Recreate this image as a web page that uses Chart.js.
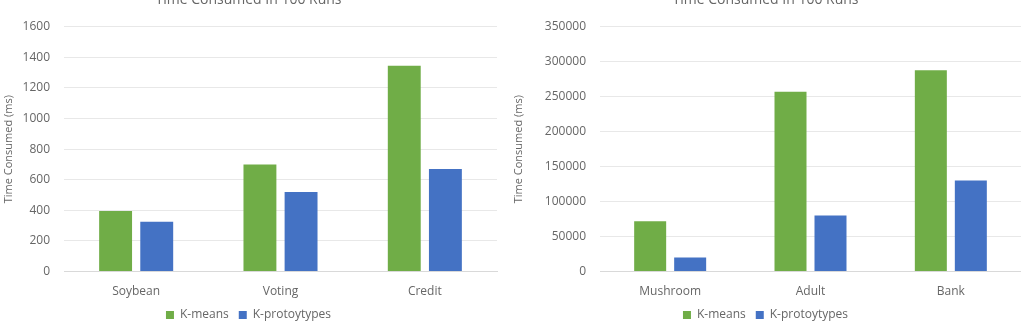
<!DOCTYPE html>
<html>
<head>
<meta charset="utf-8">
<script src="https://cdn.jsdelivr.net/npm/chart.js@4/dist/chart.umd.min.js"></script>
<style>
  html, body { margin: 0; padding: 0; background: #fff; overflow: hidden; }
  .wrap { position: absolute; top: -8px; height: 339px; }
  #w1 { left: 0; width: 510px; }
  #w2 { left: 510px; width: 511px; }
</style>
</head>
<body>
<div class="wrap" id="w1"><canvas id="c1"></canvas></div>
<div class="wrap" id="w2"><canvas id="c2"></canvas></div>
<script>
// data
const leftCategories = ['Soybean', 'Voting', 'Credit'];
const leftKmeans = [395, 700, 1345];
const leftKproto = [325, 520, 670];

const rightCategories = ['Mushroom', 'Adult', 'Bank'];
const rightKmeans = [72000, 257000, 288000];
const rightKproto = [20000, 80000, 130000];

const seriesNames = ['K-means', 'K-protoytypes'];
const titleText = 'Time Consumed In 100 Runs';
const yTitle = 'Time Consumed (ms)';

Chart.defaults.font.family = '"Open Sans", sans-serif';
Chart.defaults.color = '#666';

function makeChart(id, labels, a, b, max, step, axisWidth, padRight) {
    return new Chart(document.getElementById(id), {
        type: 'bar',
        data: {
            labels: labels,
            datasets: [{
                label: seriesNames[0],
                data: a,
                backgroundColor: '#70ad47',
                categoryPercentage: 0.57,
                barPercentage: 0.8
            }, {
                label: seriesNames[1],
                data: b,
                backgroundColor: '#4472c4',
                categoryPercentage: 0.57,
                barPercentage: 0.8
            }]
        },
        options: {
            responsive: true,
            maintainAspectRatio: false,
            animation: false,
            layout: { padding: { right: padRight, bottom: 0 } },
            scales: {
                x: {
                    grid: { display: false },
                    border: { color: '#d9d9d9' },
                    ticks: { font: { size: 12 }, padding: 5 },
                    afterFit: s => { s.height = 27.5; }
                },
                y: {
                    min: 0,
                    max: max,
                    ticks: {
                        stepSize: step,
                        font: { size: 12 },
                        padding: 14,
                        callback: v => String(v)
                    },
                    grid: { color: '#e8e8e8', drawTicks: false },
                    border: { display: false },
                    title: { display: true, text: yTitle, font: { size: 11 }, padding: { top: 2, bottom: 0 } },
                    afterFit: s => { s.width = axisWidth; }
                }
            },
            plugins: {
                title: {
                    display: true,
                    text: titleText,
                    font: { size: 14, weight: 'normal' },
                    padding: { top: 0, bottom: 18 }
                },
                legend: {
                    position: 'bottom',
                    labels: { boxWidth: 8, boxHeight: 8, font: { size: 12 }, padding: 10 }
                },
                tooltip: { enabled: false }
            }
        }
    });
}

makeChart('c1', leftCategories, leftKmeans, leftKproto, 1600, 200, 64, 13);
makeChart('c2', rightCategories, rightKmeans, rightKproto, 350000, 50000, 90, 0);
</script>
</body>
</html>
